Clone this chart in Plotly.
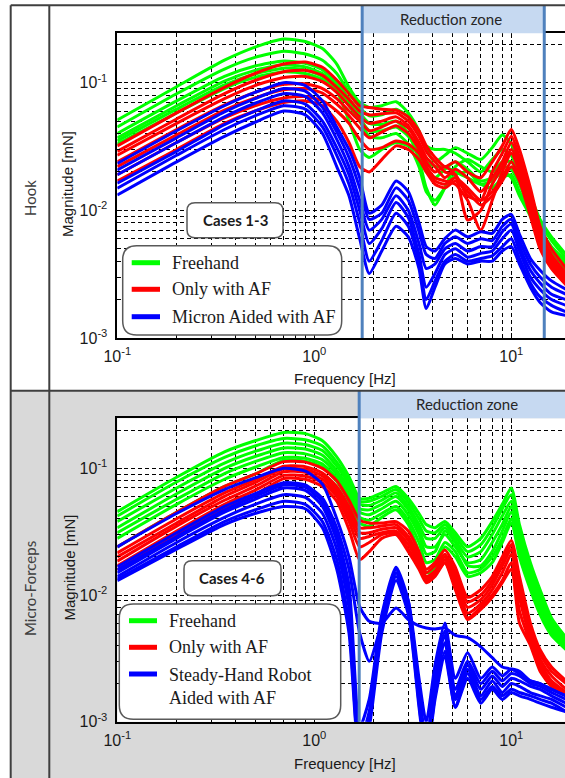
import plotly.graph_objects as go

W, H = 565, 778

# ---------------- data ----------------
FREQ = [0.1, 0.2, 0.35, 0.5, 0.7, 0.9, 1.1, 1.3, 1.5, 1.7, 1.9, 2.2, 2.6, 3.0, 3.4, 3.7,
        4.1, 4.6, 5.2, 6.0, 7.0, 8.0, 9.0, 10.0, 11.0, 12.5, 14.0, 16.0, 19.0]

HOOK_FREEHAND = [
    [0.051, 0.093, 0.150, 0.190, 0.220, 0.210, 0.185, 0.140, 0.092, 0.070, 0.064, 0.066, 0.071, 0.058, 0.042, 0.030, 0.024, 0.027, 0.031, 0.028, 0.025, 0.031, 0.039, 0.033, 0.022, 0.013, 0.0085, 0.0062, 0.0045],
    [0.045, 0.082, 0.128, 0.158, 0.176, 0.168, 0.150, 0.118, 0.084, 0.064, 0.055, 0.056, 0.062, 0.054, 0.040, 0.032, 0.030, 0.030, 0.028, 0.024, 0.020, 0.025, 0.030, 0.027, 0.019, 0.012, 0.0080, 0.0058, 0.0042],
    [0.040, 0.072, 0.112, 0.135, 0.148, 0.142, 0.126, 0.100, 0.075, 0.058, 0.048, 0.047, 0.050, 0.040, 0.025, 0.015, 0.011, 0.015, 0.022, 0.025, 0.022, 0.020, 0.024, 0.024, 0.018, 0.011, 0.0072, 0.0052, 0.0040],
    [0.037, 0.066, 0.103, 0.125, 0.138, 0.133, 0.118, 0.094, 0.070, 0.053, 0.042, 0.042, 0.045, 0.038, 0.028, 0.020, 0.018, 0.021, 0.024, 0.021, 0.017, 0.018, 0.022, 0.021, 0.016, 0.010, 0.0068, 0.0050, 0.0038],
    [0.035, 0.062, 0.096, 0.117, 0.130, 0.126, 0.112, 0.090, 0.066, 0.050, 0.038, 0.037, 0.040, 0.033, 0.022, 0.014, 0.012, 0.015, 0.019, 0.020, 0.016, 0.015, 0.018, 0.019, 0.014, 0.0095, 0.0064, 0.0048, 0.0036],
    [0.033, 0.058, 0.090, 0.110, 0.122, 0.118, 0.106, 0.086, 0.050, 0.030, 0.026, 0.030, 0.034, 0.032, 0.028, 0.024, 0.022, 0.022, 0.020, 0.018, 0.016, 0.017, 0.020, 0.018, 0.013, 0.0090, 0.0060, 0.0045, 0.0034],
]
HOOK_AF = [
    [0.032, 0.058, 0.092, 0.118, 0.140, 0.145, 0.132, 0.105, 0.082, 0.066, 0.064, 0.062, 0.061, 0.054, 0.042, 0.032, 0.026, 0.022, 0.024, 0.020, 0.018, 0.024, 0.032, 0.043, 0.030, 0.015, 0.0075, 0.0050, 0.0035],
    [0.029, 0.052, 0.082, 0.104, 0.122, 0.125, 0.114, 0.092, 0.074, 0.060, 0.056, 0.057, 0.058, 0.050, 0.038, 0.029, 0.024, 0.020, 0.019, 0.013, 0.012, 0.020, 0.028, 0.038, 0.026, 0.013, 0.0068, 0.0045, 0.0032],
    [0.027, 0.048, 0.075, 0.095, 0.110, 0.112, 0.102, 0.084, 0.066, 0.054, 0.048, 0.050, 0.054, 0.046, 0.034, 0.026, 0.022, 0.018, 0.021, 0.018, 0.014, 0.018, 0.024, 0.034, 0.024, 0.012, 0.0062, 0.0042, 0.0030],
    [0.024, 0.043, 0.067, 0.084, 0.097, 0.098, 0.090, 0.075, 0.060, 0.050, 0.042, 0.045, 0.050, 0.044, 0.032, 0.024, 0.020, 0.022, 0.019, 0.0084, 0.010, 0.016, 0.022, 0.030, 0.022, 0.011, 0.0058, 0.0040, 0.0029],
    [0.022, 0.039, 0.061, 0.076, 0.088, 0.090, 0.083, 0.068, 0.055, 0.044, 0.037, 0.041, 0.046, 0.040, 0.030, 0.022, 0.018, 0.017, 0.016, 0.012, 0.0070, 0.012, 0.020, 0.028, 0.020, 0.010, 0.0055, 0.0038, 0.0028],
    [0.019, 0.034, 0.053, 0.066, 0.076, 0.078, 0.072, 0.060, 0.048, 0.036, 0.030, 0.031, 0.035, 0.033, 0.028, 0.022, 0.017, 0.016, 0.018, 0.015, 0.012, 0.014, 0.018, 0.024, 0.018, 0.0095, 0.0052, 0.0036, 0.0027],
    [0.017, 0.030, 0.048, 0.060, 0.070, 0.072, 0.066, 0.050, 0.034, 0.022, 0.020, 0.025, 0.032, 0.030, 0.025, 0.020, 0.016, 0.015, 0.017, 0.014, 0.011, 0.013, 0.017, 0.022, 0.017, 0.0090, 0.0050, 0.0035, 0.0026],
]
HOOK_MICRON = [
    [0.0233, 0.042, 0.066, 0.084, 0.100, 0.095, 0.072, 0.045, 0.030, 0.018, 0.0095, 0.011, 0.0170, 0.014, 0.0080, 0.0052, 0.0048, 0.0060, 0.0070, 0.0062, 0.0068, 0.0066, 0.0085, 0.0093, 0.0065, 0.0042, 0.0034, 0.0028, 0.0024],
    [0.0207, 0.037, 0.059, 0.075, 0.090, 0.086, 0.064, 0.041, 0.026, 0.015, 0.0085, 0.0095, 0.0150, 0.012, 0.0068, 0.0045, 0.0042, 0.0055, 0.0062, 0.0055, 0.0060, 0.0058, 0.0075, 0.0085, 0.0058, 0.0038, 0.0030, 0.0025, 0.0022],
    [0.0190, 0.034, 0.054, 0.069, 0.082, 0.078, 0.058, 0.036, 0.022, 0.012, 0.0070, 0.0085, 0.0130, 0.010, 0.0055, 0.0035, 0.0038, 0.0050, 0.0055, 0.0048, 0.0052, 0.0052, 0.0068, 0.0078, 0.0052, 0.0034, 0.0027, 0.0022, 0.0020],
    [0.0163, 0.029, 0.047, 0.060, 0.072, 0.068, 0.050, 0.031, 0.019, 0.010, 0.0055, 0.0072, 0.0115, 0.0088, 0.0045, 0.0025, 0.0032, 0.0045, 0.0050, 0.0043, 0.0046, 0.0048, 0.0060, 0.0070, 0.0048, 0.0030, 0.0024, 0.0020, 0.0018],
    [0.0149, 0.027, 0.043, 0.055, 0.066, 0.062, 0.045, 0.027, 0.016, 0.0080, 0.0040, 0.0058, 0.0095, 0.0075, 0.0040, 0.0020, 0.0028, 0.0040, 0.0045, 0.0040, 0.0042, 0.0044, 0.0052, 0.0060, 0.0042, 0.0027, 0.0021, 0.0018, 0.0016],
    [0.0132, 0.024, 0.038, 0.049, 0.060, 0.056, 0.040, 0.022, 0.013, 0.0060, 0.0032, 0.0048, 0.0075, 0.0062, 0.0035, 0.0017, 0.0025, 0.0038, 0.0042, 0.0038, 0.0040, 0.0040, 0.0048, 0.0052, 0.0038, 0.0025, 0.0019, 0.0016, 0.0015],
]

FORCEPS_FREEHAND = [
    [0.0455, 0.085, 0.135, 0.165, 0.192, 0.188, 0.165, 0.123, 0.086, 0.058, 0.058, 0.064, 0.072, 0.058, 0.044, 0.036, 0.034, 0.038, 0.031, 0.024, 0.028, 0.038, 0.052, 0.070, 0.036, 0.018, 0.011, 0.0066, 0.0046],
    [0.042, 0.078, 0.122, 0.150, 0.172, 0.168, 0.150, 0.112, 0.080, 0.055, 0.055, 0.060, 0.068, 0.054, 0.040, 0.032, 0.031, 0.036, 0.029, 0.022, 0.025, 0.034, 0.048, 0.062, 0.032, 0.016, 0.0100, 0.0062, 0.0044],
    [0.038, 0.070, 0.110, 0.136, 0.158, 0.154, 0.138, 0.104, 0.075, 0.052, 0.051, 0.056, 0.064, 0.050, 0.036, 0.028, 0.028, 0.034, 0.027, 0.020, 0.022, 0.030, 0.042, 0.055, 0.030, 0.015, 0.0092, 0.0058, 0.0042],
    [0.034, 0.063, 0.100, 0.124, 0.145, 0.142, 0.127, 0.096, 0.070, 0.048, 0.047, 0.052, 0.060, 0.047, 0.033, 0.024, 0.024, 0.030, 0.024, 0.018, 0.019, 0.026, 0.036, 0.050, 0.028, 0.014, 0.0085, 0.0055, 0.0040],
    [0.031, 0.057, 0.091, 0.113, 0.133, 0.130, 0.117, 0.090, 0.065, 0.045, 0.043, 0.048, 0.055, 0.043, 0.030, 0.021, 0.022, 0.032, 0.026, 0.017, 0.017, 0.022, 0.032, 0.045, 0.025, 0.013, 0.0080, 0.0052, 0.0039],
    [0.028, 0.052, 0.082, 0.102, 0.122, 0.120, 0.108, 0.084, 0.060, 0.041, 0.039, 0.044, 0.050, 0.039, 0.026, 0.018, 0.019, 0.026, 0.022, 0.015, 0.016, 0.020, 0.028, 0.040, 0.022, 0.012, 0.0075, 0.0050, 0.0038],
    [0.024, 0.045, 0.072, 0.090, 0.116, 0.114, 0.102, 0.079, 0.055, 0.037, 0.035, 0.041, 0.047, 0.036, 0.022, 0.015, 0.016, 0.024, 0.020, 0.014, 0.015, 0.018, 0.026, 0.037, 0.020, 0.011, 0.0070, 0.0048, 0.0037],
]
FORCEPS_AF = [
    [0.0240, 0.045, 0.072, 0.090, 0.113, 0.112, 0.100, 0.080, 0.056, 0.039, 0.037, 0.037, 0.038, 0.032, 0.022, 0.016, 0.018, 0.0227, 0.0166, 0.0096, 0.011, 0.014, 0.020, 0.027, 0.014, 0.0060, 0.0037, 0.0027, 0.0021],
    [0.0215, 0.040, 0.064, 0.081, 0.104, 0.103, 0.092, 0.072, 0.050, 0.034, 0.034, 0.035, 0.036, 0.029, 0.020, 0.015, 0.017, 0.021, 0.015, 0.0088, 0.010, 0.013, 0.018, 0.025, 0.012, 0.0054, 0.0034, 0.0025, 0.0020],
    [0.0200, 0.037, 0.060, 0.077, 0.099, 0.098, 0.087, 0.068, 0.046, 0.031, 0.031, 0.033, 0.034, 0.027, 0.019, 0.014, 0.0155, 0.020, 0.014, 0.0080, 0.0092, 0.012, 0.017, 0.023, 0.011, 0.0050, 0.0031, 0.0023, 0.0018],
    [0.0185, 0.035, 0.056, 0.072, 0.094, 0.093, 0.082, 0.064, 0.042, 0.028, 0.029, 0.031, 0.032, 0.025, 0.018, 0.0135, 0.015, 0.019, 0.013, 0.0072, 0.0085, 0.011, 0.015, 0.021, 0.0095, 0.0046, 0.0029, 0.0021, 0.0017],
    [0.0170, 0.032, 0.052, 0.067, 0.088, 0.087, 0.077, 0.060, 0.038, 0.024, 0.026, 0.030, 0.031, 0.023, 0.017, 0.013, 0.0145, 0.018, 0.012, 0.0066, 0.0080, 0.0100, 0.013, 0.018, 0.0075, 0.0042, 0.0027, 0.0020, 0.0016],
    [0.0158, 0.030, 0.048, 0.062, 0.083, 0.082, 0.072, 0.055, 0.033, 0.019, 0.022, 0.028, 0.030, 0.022, 0.016, 0.0125, 0.014, 0.018, 0.011, 0.0064, 0.0077, 0.0096, 0.0125, 0.016, 0.0060, 0.0040, 0.0025, 0.0019, 0.0016],
]
FORCEPS_ROBOT = [
    [0.0240, 0.044, 0.068, 0.084, 0.100, 0.095, 0.075, 0.040, 0.020, 0.0081, 0.0062, 0.0060, 0.0079, 0.0064, 0.0057, 0.0055, 0.0054, 0.0055, 0.0048, 0.0046, 0.0039, 0.0032, 0.0027, 0.0026, 0.0024, 0.0021, 0.0020, 0.0018, 0.0016],
    [0.0167, 0.031, 0.050, 0.063, 0.077, 0.074, 0.058, 0.034, 0.016, 0.0050, 0.0030, 0.0060, 0.0150, 0.0090, 0.0022, 0.0010, 0.0028, 0.0060, 0.0022, 0.0035, 0.0022, 0.0027, 0.0023, 0.0026, 0.0025, 0.0021, 0.0020, 0.0018, 0.0016],
    [0.0158, 0.029, 0.047, 0.060, 0.074, 0.071, 0.054, 0.030, 0.012, 0.0009, 0.0015, 0.0070, 0.0166, 0.0090, 0.0018, 0.0007, 0.0022, 0.0052, 0.0018, 0.0030, 0.0020, 0.0025, 0.0021, 0.0024, 0.0023, 0.0020, 0.0019, 0.0017, 0.0015],
    [0.0150, 0.028, 0.045, 0.057, 0.070, 0.067, 0.050, 0.027, 0.010, 0.0007, 0.0012, 0.0065, 0.0160, 0.0085, 0.0016, 0.0006, 0.0020, 0.0048, 0.0016, 0.0028, 0.0018, 0.0023, 0.0019, 0.0022, 0.0021, 0.0019, 0.0018, 0.0016, 0.0014],
    [0.0140, 0.026, 0.041, 0.052, 0.062, 0.059, 0.044, 0.023, 0.008, 0.0006, 0.0011, 0.0060, 0.0150, 0.0080, 0.0015, 0.0006, 0.0018, 0.0042, 0.0015, 0.0026, 0.0016, 0.0021, 0.0017, 0.0020, 0.0019, 0.0017, 0.0016, 0.0015, 0.0013],
    [0.0134, 0.024, 0.038, 0.047, 0.055, 0.052, 0.038, 0.019, 0.006, 0.0005, 0.0010, 0.0055, 0.0140, 0.0075, 0.0014, 0.0005, 0.0016, 0.0036, 0.0013, 0.0024, 0.0015, 0.0019, 0.0016, 0.0018, 0.0017, 0.0016, 0.0015, 0.0014, 0.0012],
    [0.0130, 0.023, 0.036, 0.044, 0.050, 0.048, 0.034, 0.016, 0.005, 0.0005, 0.0009, 0.0050, 0.0130, 0.0070, 0.0013, 0.0005, 0.0015, 0.0033, 0.0013, 0.0022, 0.0014, 0.0018, 0.0015, 0.0017, 0.0016, 0.0015, 0.0014, 0.0013, 0.0012],
]

SERIES_NAMES_HOOK = ["Freehand", "Only with AF", "Micron Aided with AF"]
SERIES_NAMES_FORCEPS = ["Freehand", "Only with AF", "Steady-Hand Robot<br>Aided with AF"]
SERIES_COLORS = ["#00ff00", "#ff0000", "#0000ff"]
ROW_LABELS = ["Hook", "Micro-Forceps"]
CASE_LABELS = ["Cases 1-3", "Cases 4-6"]
ZONE_HOOK = [1.75, 14.7]      # Hz
ZONE_FORCEPS = [1.69, 40.0]   # Hz (right edge beyond view)

for grp in (HOOK_FREEHAND, HOOK_AF, HOOK_MICRON, FORCEPS_FREEHAND, FORCEPS_AF, FORCEPS_ROBOT):
    for s in grp:
        assert len(s) == len(FREQ), len(s)

# ---------------- helpers (pixel -> paper) ----------------
def PX(x):
    return x / W

def PY(y):
    return 1 - y / H

fig = go.Figure()

panels = [
    ("x", "y", [HOOK_FREEHAND, HOOK_AF, HOOK_MICRON]),
    ("x2", "y2", [FORCEPS_FREEHAND, FORCEPS_AF, FORCEPS_ROBOT]),
]
for xa, ya, groups in panels:
    for grp, col in zip(groups, SERIES_COLORS):
        for s in grp:
            fig.add_trace(go.Scatter(
                x=FREQ, y=s, xaxis=xa, yaxis=ya, mode="lines",
                line=dict(color=col, width=3, shape="spline", smoothing=0.6),
                showlegend=False, hoverinfo="skip"))

# ---------------- axes ----------------
def decade_minor(lo, hi):
    out = []
    for e in range(lo, hi + 1):
        for m in range(2, 10):
            out.append(m * 10 ** e)
    return out

X_MAJOR = [0.1, 1, 10]
X_TEXT = ["10<sup>-1</sup>", "10<sup>0</sup>", "10<sup>1</sup>"]
Y_MAJOR = [0.001, 0.01, 0.1]
Y_TEXT = ["10<sup>-3</sup>", "10<sup>-2</sup>", "10<sup>-1</sup>"]

GRID = dict(showgrid=True, gridcolor="black", gridwidth=1, griddash="4px,3px")
TICKFONT = dict(family="Liberation Sans, Arial", size=16, color="#1a1a1a")

x_left, x_right = 117.3, 565.0
top_plot = (33.3, 338.0)
bot_plot = (418.3, 721.7)

xcommon = dict(type="log", range=[-1, 1.2726], tickmode="array", tickvals=X_MAJOR,
               ticktext=X_TEXT, ticks="inside", ticklen=5, tickcolor="black",
               showline=True, linecolor="black", linewidth=1.5, mirror="ticks",
               tickfont=TICKFONT, ticklabelstandoff=3, zeroline=False, automargin=False,
               minor=dict(tickmode="array", tickvals=decade_minor(-1, 1), ticks="inside",
                          ticklen=3, tickcolor="black", **GRID),
               domain=[PX(x_left), PX(x_right)], **GRID)
ycommon = dict(type="log", tickmode="array", tickvals=Y_MAJOR, ticktext=Y_TEXT,
               ticks="inside", ticklen=5, tickcolor="black", showline=True,
               linecolor="black", linewidth=1.5, tickfont=TICKFONT, ticklabelstandoff=5,
               zeroline=False, automargin=False,
               minor=dict(tickmode="array", tickvals=decade_minor(-3, -1), ticks="inside",
                          ticklen=3, tickcolor="black", **GRID),
               **GRID)

fig.update_layout(
    width=W, height=H, margin=dict(l=0, r=0, t=0, b=0, pad=0, autoexpand=False),
    paper_bgcolor="white", plot_bgcolor="white", showlegend=False,
    xaxis=dict(anchor="y", **xcommon),
    yaxis=dict(anchor="x", range=[-3, -0.613],
               domain=[PY(top_plot[1]), PY(top_plot[0])], **ycommon),
    xaxis2=dict(anchor="y2", **xcommon),
    yaxis2=dict(anchor="x2", range=[-3, -0.605],
                domain=[PY(bot_plot[1]), PY(bot_plot[0])], **ycommon),
)

shapes = []
annotations = []

# row backgrounds (bottom row gray, plot area stays white)
shapes.append(dict(type="rect", xref="paper", yref="paper", layer="below",
                   x0=PX(10.7), x1=1, y0=0, y1=PY(390.7),
                   fillcolor="#d9d9d9", line=dict(width=0)))
shapes.append(dict(type="rect", xref="paper", yref="paper", layer="below",
                   x0=PX(x_left), x1=1, y0=PY(bot_plot[1]), y1=PY(bot_plot[0]),
                   fillcolor="white", line=dict(width=0)))

# reduction-zone headers
ZONE_BLUE = "#4f81bd"
HEADER_FILL = "#c6d9f1"
shapes.append(dict(type="rect", xref="x", yref="paper", layer="above",
                   x0=ZONE_HOOK[0], x1=ZONE_HOOK[1], y0=PY(top_plot[0]), y1=PY(5.3),
                   fillcolor=HEADER_FILL, line=dict(width=0)))
shapes.append(dict(type="rect", xref="x2", yref="paper", layer="above",
                   x0=ZONE_FORCEPS[0], x1=ZONE_FORCEPS[1], y0=PY(bot_plot[0]), y1=PY(390.7),
                   fillcolor=HEADER_FILL, line=dict(width=0)))
for xv in ZONE_HOOK:
    shapes.append(dict(type="line", xref="x", yref="paper", layer="above",
                       x0=xv, x1=xv, y0=PY(top_plot[1]), y1=PY(5.3),
                       line=dict(color=ZONE_BLUE, width=3)))
shapes.append(dict(type="line", xref="x2", yref="paper", layer="above",
                   x0=ZONE_FORCEPS[0], x1=ZONE_FORCEPS[0], y0=PY(bot_plot[1]), y1=PY(390.7),
                   line=dict(color=ZONE_BLUE, width=3)))

# table borders
BORDER = dict(color="#3f3f3f", width=2)
for xv in (10.7, 49.3):
    shapes.append(dict(type="line", xref="paper", yref="paper", layer="above",
                       x0=PX(xv), x1=PX(xv), y0=0, y1=PY(5.3), line=BORDER))
for yv in (5.3, 390.7):
    shapes.append(dict(type="line", xref="paper", yref="paper", layer="above",
                       x0=PX(10.7), x1=1, y0=PY(yv), y1=PY(yv), line=BORDER))


def rrect(x0, y0, x1, y1, r):
    p = [
        f"M {PX(x0 + r)},{PY(y0)}",
        f"L {PX(x1 - r)},{PY(y0)}",
        f"Q {PX(x1)},{PY(y0)} {PX(x1)},{PY(y0 + r)}",
        f"L {PX(x1)},{PY(y1 - r)}",
        f"Q {PX(x1)},{PY(y1)} {PX(x1 - r)},{PY(y1)}",
        f"L {PX(x0 + r)},{PY(y1)}",
        f"Q {PX(x0)},{PY(y1)} {PX(x0)},{PY(y1 - r)}",
        f"L {PX(x0)},{PY(y0 + r)}",
        f"Q {PX(x0)},{PY(y0)} {PX(x0 + r)},{PY(y0)}",
        "Z",
    ]
    return dict(type="path", xref="paper", yref="paper", layer="above", path=" ".join(p),
                fillcolor="white", line=dict(color="#595959", width=1.5))

# legend + case boxes
legend_specs = [
    dict(box=(122.7, 245.7, 341.7, 335.0), lx=(131.7, 160.0), ly=[262.7, 289.3, 316.7],
         tx=170.0, names=SERIES_NAMES_HOOK, tys=[262.7, 289.3, 316.7],
         cbox=(187.0, 202.7, 283.0, 237.7), case=CASE_LABELS[0]),
    dict(box=(119.3, 604.0, 340.7, 719.3), lx=(129.0, 157.0), ly=[620.7, 647.3, 674.0],
         tx=167.0, names=SERIES_NAMES_FORCEPS, tys=[620.7, 647.3, 686.0],
         cbox=(184.0, 560.7, 281.0, 595.7), case=CASE_LABELS[1]),
]
for spec in legend_specs:
    shapes.append(rrect(*spec["box"], 14))
    shapes.append(rrect(*spec["cbox"], 8))
    for ly, col in zip(spec["ly"], SERIES_COLORS):
        shapes.append(dict(type="line", xref="paper", yref="paper", layer="above",
                           x0=PX(spec["lx"][0]), x1=PX(spec["lx"][1]), y0=PY(ly), y1=PY(ly),
                           line=dict(color=col, width=5)))
    for name, ty in zip(spec["names"], spec["tys"]):
        annotations.append(dict(xref="paper", yref="paper", x=PX(spec["tx"]), y=PY(ty),
                                text=name, showarrow=False, xanchor="left", yanchor="middle",
                                align="left",
                                font=dict(family="Liberation Serif, Times New Roman",
                                          size=18, color="#1a1a1a")))
    cx = (spec["cbox"][0] + spec["cbox"][2]) / 2
    cy = (spec["cbox"][1] + spec["cbox"][3]) / 2
    annotations.append(dict(xref="paper", yref="paper", x=PX(cx), y=PY(cy),
                            text=f"<b>{spec['case']}</b>", showarrow=False,
                            xanchor="center", yanchor="middle",
                            font=dict(family="Lato, Liberation Sans", size=15, color="#1a1a1a")))

# texts
LABEL_FONT = dict(family="Liberation Sans, Arial", size=15, color="#1a1a1a")
ZONE_FONT = dict(family="Lato, Open Sans", size=15, color="#262626")
ROW_FONT = dict(family="Lato, Open Sans", size=15, color="#404040")
text_items = [
    ("Reduction zone", 450.7, 19.0, 0, ZONE_FONT),
    ("Reduction zone", 466.7, 404.0, 0, ZONE_FONT),
    ("Frequency [Hz]", 345.0, 378.0, 0, LABEL_FONT),
    ("Frequency [Hz]", 345.0, 763.0, 0, LABEL_FONT),
    ("Magnitude [mN]", 67.0, 184.0, -90, LABEL_FONT),
    ("Magnitude [mN]", 68.5, 568.0, -90, LABEL_FONT),
    (ROW_LABELS[0], 30.0, 198.0, -90, ROW_FONT),
    (ROW_LABELS[1], 30.0, 589.0, -90, ROW_FONT),
]
for txt, x, y, ang, fnt in text_items:
    annotations.append(dict(xref="paper", yref="paper", x=PX(x), y=PY(y), text=txt,
                            showarrow=False, xanchor="center", yanchor="middle",
                            textangle=ang, font=fnt))

fig.update_layout(shapes=shapes, annotations=annotations)
fig.write_html("out.html")
